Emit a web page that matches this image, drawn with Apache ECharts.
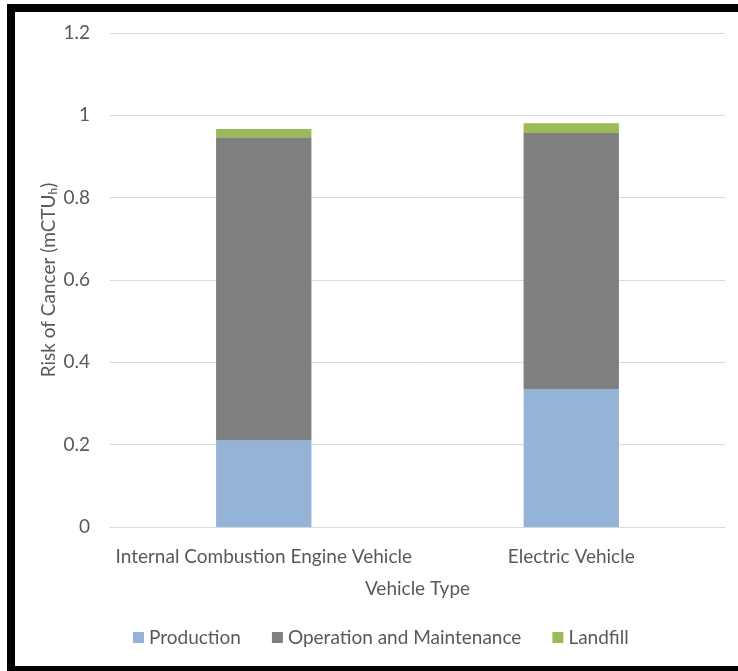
<!DOCTYPE html>
<html>
<head>
<meta charset="utf-8">
<script src="https://cdn.jsdelivr.net/npm/echarts@6/dist/echarts.min.js"></script>
<style>
  html, body { margin: 0; padding: 0; background: #fff; }
  #chart { width: 738px; height: 671px; }
</style>
</head>
<body>
<div id="chart"></div>
<script>
// Vehicle categories and the life-cycle stage contributions (mCTUh)
const categories = ['Internal Combustion Engine Vehicle', 'Electric Vehicle'];
const production = [0.21, 0.335];
const operationMaintenance = [0.737, 0.622];
const landfill = [0.02, 0.024];
const yTicks = { min: 0, max: 1.2, step: 0.2 };

const FONT = 'Lato';
const SIZE = 19;
const TEXT = '#595959';

const chart = echarts.init(document.getElementById('chart'), null, { renderer: 'canvas' });

function stackSeries(name, data, color) {
  return {
    name: name,
    type: 'bar',
    stack: 'total',
    data: data,
    barWidth: '31%',
    itemStyle: { color: color },
    emphasis: { disabled: true }
  };
}

chart.setOption({
  animation: false,
  backgroundColor: '#fff',
  textStyle: { fontFamily: FONT, color: TEXT },
  grid: { left: 110, right: 13, top: 33, bottom: 144, containLabel: false },
  legend: {
    left: 128,
    top: 623,
    itemWidth: 11,
    itemHeight: 11,
    itemGap: 31,
    icon: 'rect',
    textStyle: { fontFamily: FONT, fontSize: SIZE, color: TEXT },
    data: ['Production', 'Operation and Maintenance', 'Landfill']
  },
  xAxis: {
    type: 'category',
    data: categories,
    name: 'Vehicle Type',
    nameLocation: 'middle',
    nameGap: 52,
    nameMoveOverlap: false,
    nameTextStyle: { fontFamily: FONT, fontSize: SIZE, color: TEXT },
    axisLine: { lineStyle: { color: '#D9D9D9', width: 1 } },
    axisTick: { show: false },
    axisLabel: { interval: 0, fontFamily: FONT, fontSize: SIZE, color: TEXT, margin: 20 }
  },
  yAxis: {
    type: 'value',
    min: yTicks.min,
    max: yTicks.max,
    interval: yTicks.step,
    name: '{n|Risk of Cancer (mCTU}{s|h}{n|)}',
    nameLocation: 'middle',
    nameGap: 51,
    nameRotate: 90,
    nameMoveOverlap: false,
    nameTextStyle: {
      rich: {
        n: { fontFamily: FONT, fontSize: SIZE, color: TEXT },
        s: { fontFamily: FONT, fontSize: 12, color: TEXT, verticalAlign: 'bottom', padding: [8, 0, 0, 0] }
      }
    },
    axisLine: { show: false },
    axisTick: { show: false },
    splitLine: { lineStyle: { color: '#D9D9D9', width: 1 } },
    axisLabel: { fontFamily: FONT, fontSize: SIZE, color: TEXT, margin: 20 }
  },
  graphic: [
    // frame around the chart area
    { type: 'rect', shape: { x: 7, y: 4, width: 731, height: 8 }, style: { fill: '#000' } },
    { type: 'rect', shape: { x: 7, y: 4, width: 8, height: 667 }, style: { fill: '#000' } },
    { type: 'rect', shape: { x: 7, y: 666, width: 731, height: 5 }, style: { fill: '#000' } }
  ],
  series: [
    stackSeries('Production', production, '#95B3D7'),
    stackSeries('Operation and Maintenance', operationMaintenance, '#7F7F7F'),
    stackSeries('Landfill', landfill, '#9BBB59')
  ]
});
</script>
</body>
</html>
